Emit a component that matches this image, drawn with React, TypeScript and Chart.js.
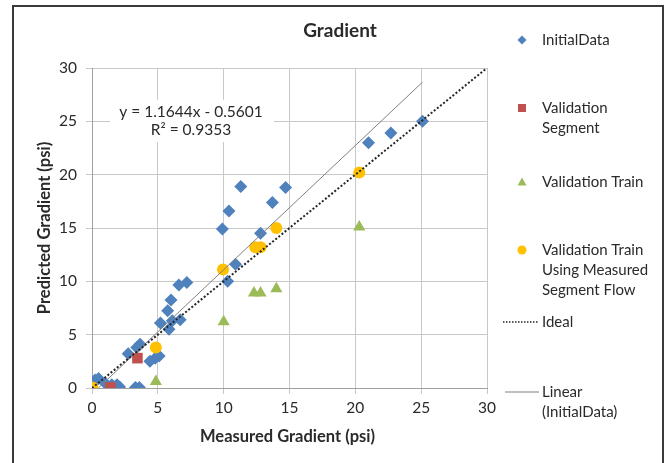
import React, { useEffect, useRef } from "react";
import { Chart, registerables } from "chart.js";

Chart.register(...registerables);

const FONT = "Lato, 'Open Sans', sans-serif";

// Blue diamonds: InitialData
const initialX = [25.1, 22.7, 21.0, 11.3, 14.7, 13.7, 10.4, 9.9, 12.8, 10.9, 10.3, 7.2, 6.6, 6.0, 5.75, 5.2, 5.85, 6.1, 6.7, 3.65, 3.4, 2.75, 4.4, 4.8, 5.1, 0.23, 0.5, 0.0, 1.0, 1.5, 1.9, 2.1, 3.3, 3.6];
const initialY = [25.0, 23.9, 23.0, 18.9, 18.8, 17.4, 16.6, 14.9, 14.5, 11.6, 10.0, 9.9, 9.65, 8.25, 7.25, 6.1, 5.5, 6.3, 6.4, 4.1, 3.8, 3.2, 2.5, 2.8, 3.0, 0.75, 0.9, 0.3, 0.45, 0.3, 0.3, 0.1, 0.05, 0.05];
// Red squares: Validation Segment
const segmentX = [1.4, 3.45];
const segmentY = [0.05, 2.8];
// Green triangles: Validation Train
const trainX = [4.85, 10.0, 12.3, 12.8, 14.0, 20.3];
const trainY = [0.6, 6.2, 8.9, 8.9, 9.3, 15.1];
// Yellow circles: Validation Train Using Measured Segment Flow
const measuredX = [0.03, 4.85, 9.95, 12.4, 12.8, 14.0, 20.3];
const measuredY = [0.05, 3.8, 11.1, 13.2, 13.2, 15.0, 20.2];
// Ideal line
const idealX = [0, 30];
const idealY = [0, 30];
// Linear trendline (InitialData): y = 1.1644x - 0.5601
const linearX = [0.48, 25.1];
const linearY = [0.0, 28.67];

const axisTicks = [0, 5, 10, 15, 20, 25, 30];
const equationLines = ["y = 1.1644x - 0.5601", "R\u00B2 = 0.9353"];
const legendLabels = [
  ["InitialData"],
  ["Validation", "Segment"],
  ["Validation Train"],
  ["Validation Train", "Using Measured", "Segment Flow"],
  ["Ideal"],
  ["Linear", "(InitialData)"],
];

const BLUE = "#4F81BD";
const RED = "#C0504D";
const GREEN = "#9BBB59";
const YELLOW = "#FFC000";
const TEXT = "#2a2a2a";

const toPts = (xs: number[], ys: number[]) => xs.map((x, i) => ({ x, y: ys[i] }));

function drawMarker(ctx: CanvasRenderingContext2D, kind: string, x: number, y: number, r: number, color: string) {
  ctx.save();
  ctx.fillStyle = color;
  ctx.beginPath();
  if (kind === "diamond") {
    ctx.moveTo(x, y - r);
    ctx.lineTo(x + r, y);
    ctx.lineTo(x, y + r);
    ctx.lineTo(x - r, y);
    ctx.closePath();
  } else if (kind === "square") {
    ctx.rect(x - r, y - r, 2 * r, 2 * r);
  } else if (kind === "triangle") {
    ctx.moveTo(x, y - r);
    ctx.lineTo(x + r, y + r * 0.8);
    ctx.lineTo(x - r, y + r * 0.8);
    ctx.closePath();
  } else {
    ctx.arc(x, y, r, 0, Math.PI * 2);
  }
  ctx.fill();
  ctx.restore();
}

const decorPlugin = {
  id: "decor",
  afterDatasetsDraw(chart: any) {
    const ctx: CanvasRenderingContext2D = chart.ctx;
    ctx.save();
    ctx.fillStyle = "#ffffff";
    ctx.fillRect(110, 100, 164, 42);
    ctx.fillStyle = TEXT;
    ctx.font = `15.5px ${FONT}`;
    ctx.textAlign = "center";
    ctx.textBaseline = "middle";
    ctx.fillText(equationLines[0], 191, 112);
    ctx.fillText(equationLines[1], 191, 130);
    ctx.restore();
  },
  afterDraw(chart: any) {
    const ctx: CanvasRenderingContext2D = chart.ctx;
    const area = chart.chartArea;
    ctx.save();
    ctx.fillStyle = TEXT;
    ctx.textBaseline = "middle";
    // title
    ctx.font = `bold 19px ${FONT}`;
    ctx.textAlign = "center";
    ctx.fillText("Gradient", 340, 31);
    // x title
    ctx.font = `bold 16.5px ${FONT}`;
    ctx.fillText("Measured Gradient (psi)", (area.left + area.right) / 2 - 2, 437);
    // y title
    ctx.save();
    ctx.translate(45, (area.top + area.bottom) / 2);
    ctx.rotate(-Math.PI / 2);
    ctx.fillText("Predicted Gradient (psi)", 0, 0);
    ctx.restore();

    // legend
    ctx.font = `15px ${FONT}`;
    ctx.textAlign = "left";
    const tx = 542;
    const mx = 522;
    const entries = [
      { y: 40, kind: "diamond", color: BLUE, r: 4.5 },
      { y: 108, kind: "square", color: RED, r: 4 },
      { y: 182, kind: "triangle", color: GREEN, r: 4.5 },
      { y: 250, kind: "circle", color: YELLOW, r: 4.5 },
      { y: 322, kind: "dotted" },
      { y: 392, kind: "solid" },
    ];
    entries.forEach((e: any, i: number) => {
      if (e.kind === "dotted") {
        ctx.save();
        ctx.strokeStyle = "#262626";
        ctx.lineWidth = 1.5;
        ctx.setLineDash([1.5, 1.5]);
        ctx.beginPath();
        ctx.moveTo(503, e.y);
        ctx.lineTo(539, e.y);
        ctx.stroke();
        ctx.restore();
      } else if (e.kind === "solid") {
        ctx.save();
        ctx.strokeStyle = "#808080";
        ctx.lineWidth = 1;
        ctx.beginPath();
        ctx.moveTo(505, e.y);
        ctx.lineTo(539, e.y);
        ctx.stroke();
        ctx.restore();
      } else {
        drawMarker(ctx, e.kind, mx, e.y, e.r, e.color);
      }
      legendLabels[i].forEach((line, j) => {
        ctx.fillText(line, tx, e.y + j * 20);
      });
    });
    ctx.restore();
  },
};

export default function App() {
  const ref = useRef<HTMLCanvasElement | null>(null);

  useEffect(() => {
    if (!ref.current) return;
    const tickFont = { family: FONT, size: 15.5 };
    const chart = new Chart(ref.current, {
      type: "scatter",
      data: {
        datasets: [
          {
            label: "Ideal",
            data: toPts(idealX, idealY),
            showLine: true,
            borderColor: "#262626",
            borderWidth: 2,
            borderDash: [2, 2],
            pointRadius: 0,
            order: 0,
          },
          {
            label: "Linear (InitialData)",
            data: toPts(linearX, linearY),
            showLine: true,
            borderColor: "#808080",
            borderWidth: 1,
            pointRadius: 0,
            order: 1,
          },
          {
            label: "Validation Train Using Measured Segment Flow",
            data: toPts(measuredX, measuredY),
            pointStyle: "circle",
            pointRadius: 6,
            backgroundColor: YELLOW,
            borderColor: YELLOW,
            borderWidth: 0,
            order: 2,
          },
          {
            label: "Validation Train",
            data: toPts(trainX, trainY),
            pointStyle: "triangle",
            pointRadius: 7,
            backgroundColor: GREEN,
            borderColor: GREEN,
            borderWidth: 0,
            order: 3,
          },
          {
            label: "Validation Segment",
            data: toPts(segmentX, segmentY),
            pointStyle: "rect",
            pointRadius: 7.5,
            backgroundColor: RED,
            borderColor: RED,
            borderWidth: 0,
            order: 4,
          },
          {
            label: "InitialData",
            data: toPts(initialX, initialY),
            pointStyle: "rectRot",
            pointRadius: 6.5,
            backgroundColor: BLUE,
            borderColor: BLUE,
            borderWidth: 0,
            order: 5,
          },
        ],
      },
      options: {
        animation: false,
        responsive: false,
        maintainAspectRatio: false,
        layout: { padding: { left: 52, right: 183, top: 68, bottom: 45 } },
        plugins: {
          legend: { display: false },
          title: { display: false },
          tooltip: { enabled: false },
        },
        scales: {
          x: {
            type: "linear",
            min: 0,
            max: 30,
            afterFit: (s: any) => {
              s.height = 30;
            },
            afterBuildTicks: (s: any) => {
              s.ticks = axisTicks.map((v) => ({ value: v }));
            },
            ticks: { color: TEXT, font: tickFont, padding: 5 },
            grid: { color: "#c8c8c8", tickLength: 6, lineWidth: 1 },
            border: { color: "#a0a0a0" },
          },
          y: {
            type: "linear",
            min: 0,
            max: 30,
            afterFit: (s: any) => {
              s.width = 40;
            },
            afterBuildTicks: (s: any) => {
              s.ticks = axisTicks.map((v) => ({ value: v }));
            },
            ticks: { color: TEXT, font: tickFont, padding: 9 },
            grid: { color: "#c8c8c8", tickLength: 6, lineWidth: 1 },
            border: { color: "#a0a0a0" },
          },
        },
      },
      plugins: [decorPlugin],
    });
    return () => chart.destroy();
  }, []);

  return (
    <div style={{ position: "absolute", left: 0, top: 0, width: 670, height: 463, background: "#fff", overflow: "hidden" }}>
      <div
        style={{
          position: "absolute",
          left: 12,
          top: 5,
          width: 652,
          height: 480,
          border: "2px solid #3a3a3a",
          boxSizing: "border-box",
        }}
      />
      <canvas ref={ref} width={670} height={463} style={{ position: "absolute", left: 0, top: 0, width: 670, height: 463 }} />
    </div>
  );
}
